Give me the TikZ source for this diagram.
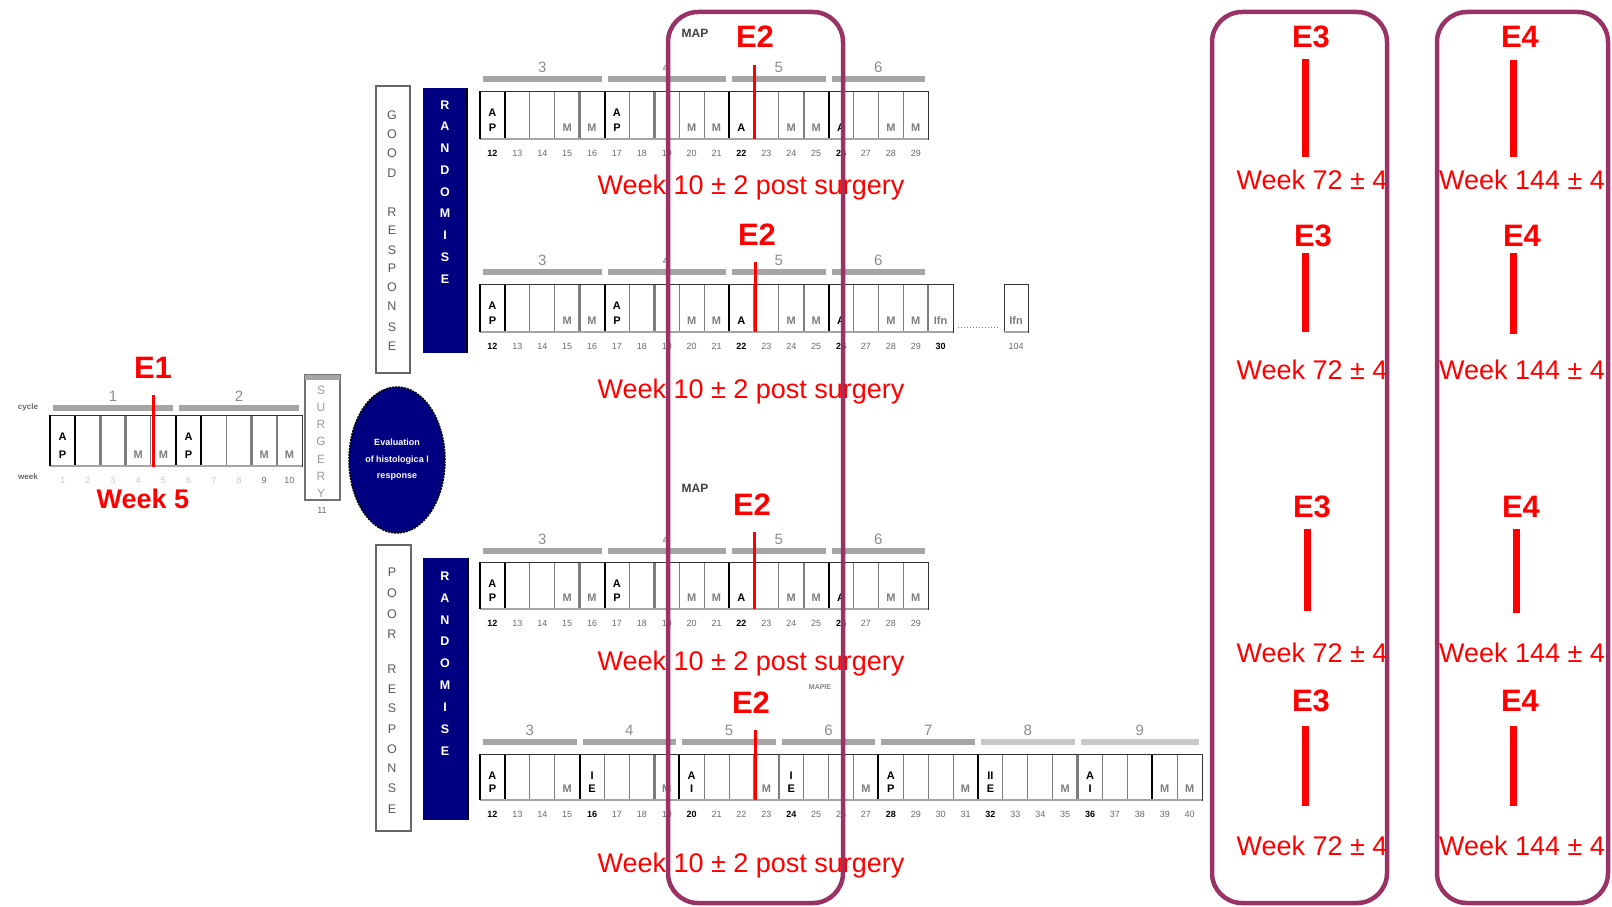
\documentclass[tikz,border=0pt]{standalone}
\usepackage{fontspec}
\setmainfont{Liberation Sans}
\usetikzlibrary{positioning,shapes.geometric}
\definecolor{boxPurple}{RGB}{153,51,102}
\definecolor{markRed}{RGB}{255,0,0}
\definecolor{randNavy}{RGB}{0,0,128}
\definecolor{cellGray}{RGB}{125,125,125}
\definecolor{barGray}{RGB}{165,165,165}
\definecolor{barGrayLight}{RGB}{200,200,200}
\definecolor{txtGray}{RGB}{105,105,105}

\tikzset{
  cellline/.style={cellGray, line width=0.9pt},
  cyclestart/.style={black, line width=2pt},
  cyclemid/.style={cellGray, line width=2.4pt},
  rowframe/.style={black!80, line width=1pt},
  rowbase/.style={barGray, line width=2.6pt},
  cyclebar/.style={line width=5.5pt},
  cyclelabel/.style={text=barGray!85!black, font=\fontsize{15}{16}\selectfont, inner sep=0pt},
  celltxt/.style={font=\fontsize{11}{12}\selectfont\bfseries, inner sep=0pt},
  weeknum/.style={text=txtGray, font=\fontsize{9}{10}\selectfont, inner sep=0pt},
  weekbold/.style={text=black, font=\fontsize{9}{10}\selectfont\bfseries, inner sep=0pt},
  sidetxt/.style={text=black!60, font=\fontsize{8}{9}\selectfont\bfseries, inner sep=0pt},
  maptxt/.style={text=black!75, font=\fontsize{12}{13}\selectfont\bfseries, inner sep=0pt},
  vertgray/.style={text=black!65, font=\fontsize{12.5}{13}\selectfont, inner sep=0pt},
  vertlight/.style={text=black!40, font=\fontsize{12}{13}\selectfont, inner sep=0pt},
  vertwhite/.style={text=white, font=\fontsize{12.5}{13}\selectfont\bfseries, inner sep=0pt},
  respbox/.style={draw=black!60, line width=1.6pt},
  surgbox/.style={draw=black!55, line width=1.2pt},
  evalnode/.style={ellipse, fill=randNavy, draw=black, line width=1.5pt,
    dash pattern=on 2pt off 1pt, minimum width=96, minimum height=146, inner sep=0pt,
    text=white, align=center, font=\fontsize{9}{16.5}\selectfont\bfseries},
  redmark/.style={markRed, line width=3pt},
  redmarkwide/.style={markRed, line width=7pt},
  elabel/.style={text=markRed, font=\fontsize{31}{33}\selectfont\bfseries, anchor=base, inner sep=0pt},
  weeklabel/.style={text=markRed, font=\fontsize{27}{30}\selectfont, anchor=base, inner sep=0pt},
  weekbig/.style={text=markRed, font=\fontsize{27}{30}\selectfont\bfseries, anchor=base, inner sep=0pt},
  window/.style={boxPurple, line width=4.5pt, rounded corners=30pt},
}

\newif\ifwkbold
% one row of week cells
% #1 x0, #2 top, #3 bottom, #4 first week, #5 last week, #6 cell width,
% #7 black dividers, #8 grey dividers, #9 bold week numbers
\newcommand{\weekrow}[9]{%
  \pgfmathsetmacro{\xr}{#1+(#5-#4+1)*#6}
  \foreach \wk in {#4,...,#5}{
    \pgfmathsetmacro{\xl}{#1+(\wk-#4)*#6}
    \draw[cellline] (\xl,#2) -- (\xl,#3);
    \global\wkboldfalse
    \foreach \bw in {#9}{\ifnum\wk=\bw\relax\global\wkboldtrue\fi}
    \ifwkbold
      \node[weekbold] at ({\xl+#6/2},{#3+14}) {\wk};
    \else
      \node[weeknum] at ({\xl+#6/2},{#3+14}) {\wk};
    \fi
  }
  \foreach \wk in {#8}{\draw[cyclemid] ({#1+(\wk-#4)*#6},#2) -- ({#1+(\wk-#4)*#6},#3);}
  \foreach \wk in {#7}{\draw[cyclestart] ({#1+(\wk-#4)*#6},#2) -- ({#1+(\wk-#4)*#6},#3);}
  \draw[rowframe] (#1,#2) rectangle (\xr,#3);
  \draw[rowbase] (#1,#3) -- (\xr,#3);
  \draw[cyclestart] (#1,#2) -- (#1,#3);
}
% two letters in a cell: x0, first week, width, top, bottom, list wk/up/lo
\newcommand{\cellpairs}[6]{%
  \foreach \wk/\up/\lo in {#6}{
    \node[celltxt] at ({#1+(\wk-#2+0.5)*#3},{#4+22}) {\up};
    \node[celltxt] at ({#1+(\wk-#2+0.5)*#3},{#5-11}) {\lo};
  }}
% one letter in a cell: x0, first week, width, bottom, list wk/letter/colour
\newcommand{\cellsingles}[5]{%
  \foreach \wk/\lt/\cl in {#5}{
    \node[celltxt, text=\cl] at ({#1+(\wk-#2+0.5)*#3},{#4-11}) {\lt};
  }}
% cycle bars: x0, first week, width, bar y, list start/end/label/colour
\newcommand{\cyclebars}[5]{%
  \foreach \cs/\ce/\lab/\cl in {#5}{
    \draw[cyclebar, \cl] ({#1+(\cs-#2)*#3+3},#4) -- ({#1+(\ce-#2+1)*#3-3},#4);
    \node[cyclelabel] at ({#1+(\cs+\ce-2*#2+1)*#3/2},{#4-12}) {\lab};
  }}

\begin{document}
\begin{tikzpicture}[x=1pt,y=-1pt]
    \useasboundingbox (0,0) rectangle (1612,907);

    % induction, weeks 1-10
    \node[sidetxt] (cyc) at (28,407) {cycle};
    \node[sidetxt] (wkl) at (28,477) {week};
    \cyclebars{50}{1}{25.2}{408}{1/5/1/barGray, 6/10/2/barGray}
    \begin{scope}[weeknum/.append style={text=black!22}, weekbold/.style={weeknum, text=txtGray}]
        \weekrow{50}{415}{466}{1}{10}{25.2}{2,6,7}{3,4,9,10}{9,10}
    \end{scope}
    \cellpairs{50}{1}{25.2}{415}{466}{1/A/P, 6/A/P}
    \cellsingles{50}{1}{25.2}{466}{4/M/cellGray, 5/M/cellGray, 9/M/cellGray, 10/M/cellGray}

    % surgery
    \draw[surgbox] (305,375) rectangle (340,500);
    \draw[barGray, line width=5pt] (305,377) -- (340,377);
    \foreach \lt [count=\i] in {S,U,R,G,E,R,Y}
        \node[vertlight] at (321,{373+17.2*\i}) {\lt};
    \node[weeknum] (wk11) at (322,510) {11};

    % evaluation
    \node[evalnode] (eval) at (397,460) {Evaluation\\of histologica l\\response};

    % good response
    \draw[respbox] (376,86) rectangle (410,373);
    \foreach \lt/\yy in {G/115,O/134,O/153,D/173,R/212,E/230,S/250,P/268,O/287,N/306,S/327,E/346}
        \node[vertgray] at (392,\yy) {\lt};
    \fill[randNavy] (423,88) rectangle (467,353);
    \draw[black, line width=2pt] (467,88) -- (467,353);
    \foreach \lt [count=\i] in {R,A,N,D,O,M,I,S,E}
        \node[vertwhite] at (445,{83+21.75*\i}) {\lt};

    % poor response
    \draw[respbox] (376,545) rectangle (411,831);
    \foreach \lt/\yy in {P/572,O/593,O/614,R/634,R/669,E/689,S/708,P/729,O/749,N/768,S/788,E/809}
        \node[vertgray] at (392,\yy) {\lt};
    \fill[randNavy] (423,558) rectangle (468,820);
    \draw[black, line width=2pt] (468,558) -- (468,820);
    \foreach \lt [count=\i] in {R,A,N,D,O,M,I,S,E}
        \node[vertwhite] at (445,{554+21.9*\i}) {\lt};

    % MAP, good response, first arm
    \node[maptxt] (map1) at (695,33) {MAP};
    \cyclebars{480}{12}{24.9}{79}{12/16/3/barGray, 17/21/4/barGray, 22/25/5/barGray, 26/29/6/barGray}
    \weekrow{480}{91}{139}{12}{29}{24.9}{13,17,22,26}{16,19,25}{12,22,26}
    \cellpairs{480}{12}{24.9}{91}{139}{12/A/P, 17/A/P}
    \cellsingles{480}{12}{24.9}{139}{15/M/cellGray, 16/M/cellGray, 20/M/cellGray, 21/M/cellGray,
        22/A/black, 24/M/cellGray, 25/M/cellGray, 26/A/black, 28/M/cellGray, 29/M/cellGray}

    % MAP + ifn, good response, second arm
    \cyclebars{480}{12}{24.9}{272}{12/16/3/barGray, 17/21/4/barGray, 22/25/5/barGray, 26/29/6/barGray}
    \weekrow{480}{284}{332}{12}{30}{24.9}{13,17,22,26}{16,19,25,30}{12,22,26,30}
    \cellpairs{480}{12}{24.9}{284}{332}{12/A/P, 17/A/P}
    \cellsingles{480}{12}{24.9}{332}{15/M/cellGray, 16/M/cellGray, 20/M/cellGray, 21/M/cellGray,
        22/A/black, 24/M/cellGray, 25/M/cellGray, 26/A/black, 28/M/cellGray, 29/M/cellGray, 30/Ifn/cellGray}
    \draw[cellGray, dotted, line width=1pt] (958,327) -- (998,327);
    \draw[rowframe] (1004,284) rectangle (1028,332);
    \draw[rowbase] (1004,332) -- (1028,332);
    \node[celltxt, text=cellGray] (ifnend) at (1016,321) {Ifn};
    \node[weeknum] (wk104) at (1016,346) {104};

    % MAP, poor response, first arm
    \node[maptxt] (map2) at (695,488) {MAP};
    \cyclebars{480}{12}{24.9}{551}{12/16/3/barGray, 17/21/4/barGray, 22/25/5/barGray, 26/29/6/barGray}
    \weekrow{480}{562}{609}{12}{29}{24.9}{13,17,22,26}{16,19,25}{12,22,26}
    \cellpairs{480}{12}{24.9}{562}{609}{12/A/P, 17/A/P}
    \cellsingles{480}{12}{24.9}{609}{15/M/cellGray, 16/M/cellGray, 20/M/cellGray, 21/M/cellGray,
        22/A/black, 24/M/cellGray, 25/M/cellGray, 26/A/black, 28/M/cellGray, 29/M/cellGray}

    % MAPIE, poor response, second arm
    \node[text=black!50, font=\fontsize{7}{8}\selectfont\bfseries, inner sep=0pt] (mapie) at (820,687) {MAPIE};
    \cyclebars{480}{12}{24.9}{742}{12/15/3/barGray, 16/19/4/barGray, 20/23/5/barGray, 24/27/6/barGray,
        28/31/7/barGray, 32/35/8/barGrayLight, 36/40/9/barGrayLight}
    \weekrow{480}{754}{800}{12}{40}{24.9}{13,16,20,28,32,39}{19,24,36}{12,16,20,24,28,32,36}
    \cellpairs{480}{12}{24.9}{754}{800}{12/A/P, 16/I/E, 20/A/I, 24/I/E, 28/A/P, 32/II/E, 36/A/I}
    \cellsingles{480}{12}{24.9}{800}{15/M/cellGray, 19/M/cellGray, 23/M/cellGray, 27/M/cellGray,
        31/M/cellGray, 35/M/cellGray, 39/M/cellGray, 40/M/cellGray}

    % E1
    \draw[redmark] (153,395) -- (153,467);
    \node[elabel] (e1) at (153,378) {E1};
    \node[weekbig] (wk5) at (143,508) {Week 5};

    % E2 marks
    \draw[redmark] (754,65) -- (754,139);
    \draw[redmark] (755,262) -- (755,332);
    \draw[redmark] (754,532) -- (754,609);
    \draw[redmark] (755,730) -- (755,800);

    % windows
    \draw[window] (668,12) rectangle (843,903);
    \draw[window] (1212,12) rectangle (1387,903);
    \draw[window] (1437,12) rectangle (1608,903);

    % E2 labels
    \node[elabel] (e2a) at (755,48) {E2};
    \node[elabel] (e2b) at (757,245) {E2};
    \node[elabel] (e2c) at (752,515) {E2};
    \node[elabel] (e2d) at (751,713) {E2};
    \node[weeklabel] (w10a) at (751,194) {Week 10 ± 2 post surgery};
    \node[weeklabel] (w10b) at (751,398) {Week 10 ± 2 post surgery};
    \node[weeklabel] (w10c) at (751,670) {Week 10 ± 2 post surgery};
    \node[weeklabel] (w10d) at (751,872) {Week 10 ± 2 post surgery};

    % E3
    \draw[redmarkwide] (1305,59) -- (1305,157);
    \draw[redmarkwide] (1305,253) -- (1305,332);
    \draw[redmarkwide] (1307,529) -- (1307,611);
    \draw[redmarkwide] (1305,726) -- (1305,806);
    \node[elabel] (e3a) at (1311,48) {E3};
    \node[elabel] (e3b) at (1313,246) {E3};
    \node[elabel] (e3c) at (1312,517) {E3};
    \node[elabel] (e3d) at (1311,711) {E3};
    \node[weeklabel] (w72a) at (1312,189) {Week 72 ± 4};
    \node[weeklabel] (w72b) at (1312,379) {Week 72 ± 4};
    \node[weeklabel] (w72c) at (1312,662) {Week 72 ± 4};
    \node[weeklabel] (w72d) at (1312,855) {Week 72 ± 4};

    % E4
    \draw[redmarkwide] (1513,60) -- (1513,157);
    \draw[redmarkwide] (1513,253) -- (1513,334);
    \draw[redmarkwide] (1516,529) -- (1516,613);
    \draw[redmarkwide] (1513,726) -- (1513,806);
    \node[elabel] (e4a) at (1520,48) {E4};
    \node[elabel] (e4b) at (1522,246) {E4};
    \node[elabel] (e4c) at (1521,517) {E4};
    \node[elabel] (e4d) at (1520,711) {E4};
    \node[weeklabel] (w144a) at (1522,189) {Week 144 ± 4};
    \node[weeklabel] (w144b) at (1522,379) {Week 144 ± 4};
    \node[weeklabel] (w144c) at (1522,662) {Week 144 ± 4};
    \node[weeklabel] (w144d) at (1522,855) {Week 144 ± 4};
\end{tikzpicture}
\end{document}
